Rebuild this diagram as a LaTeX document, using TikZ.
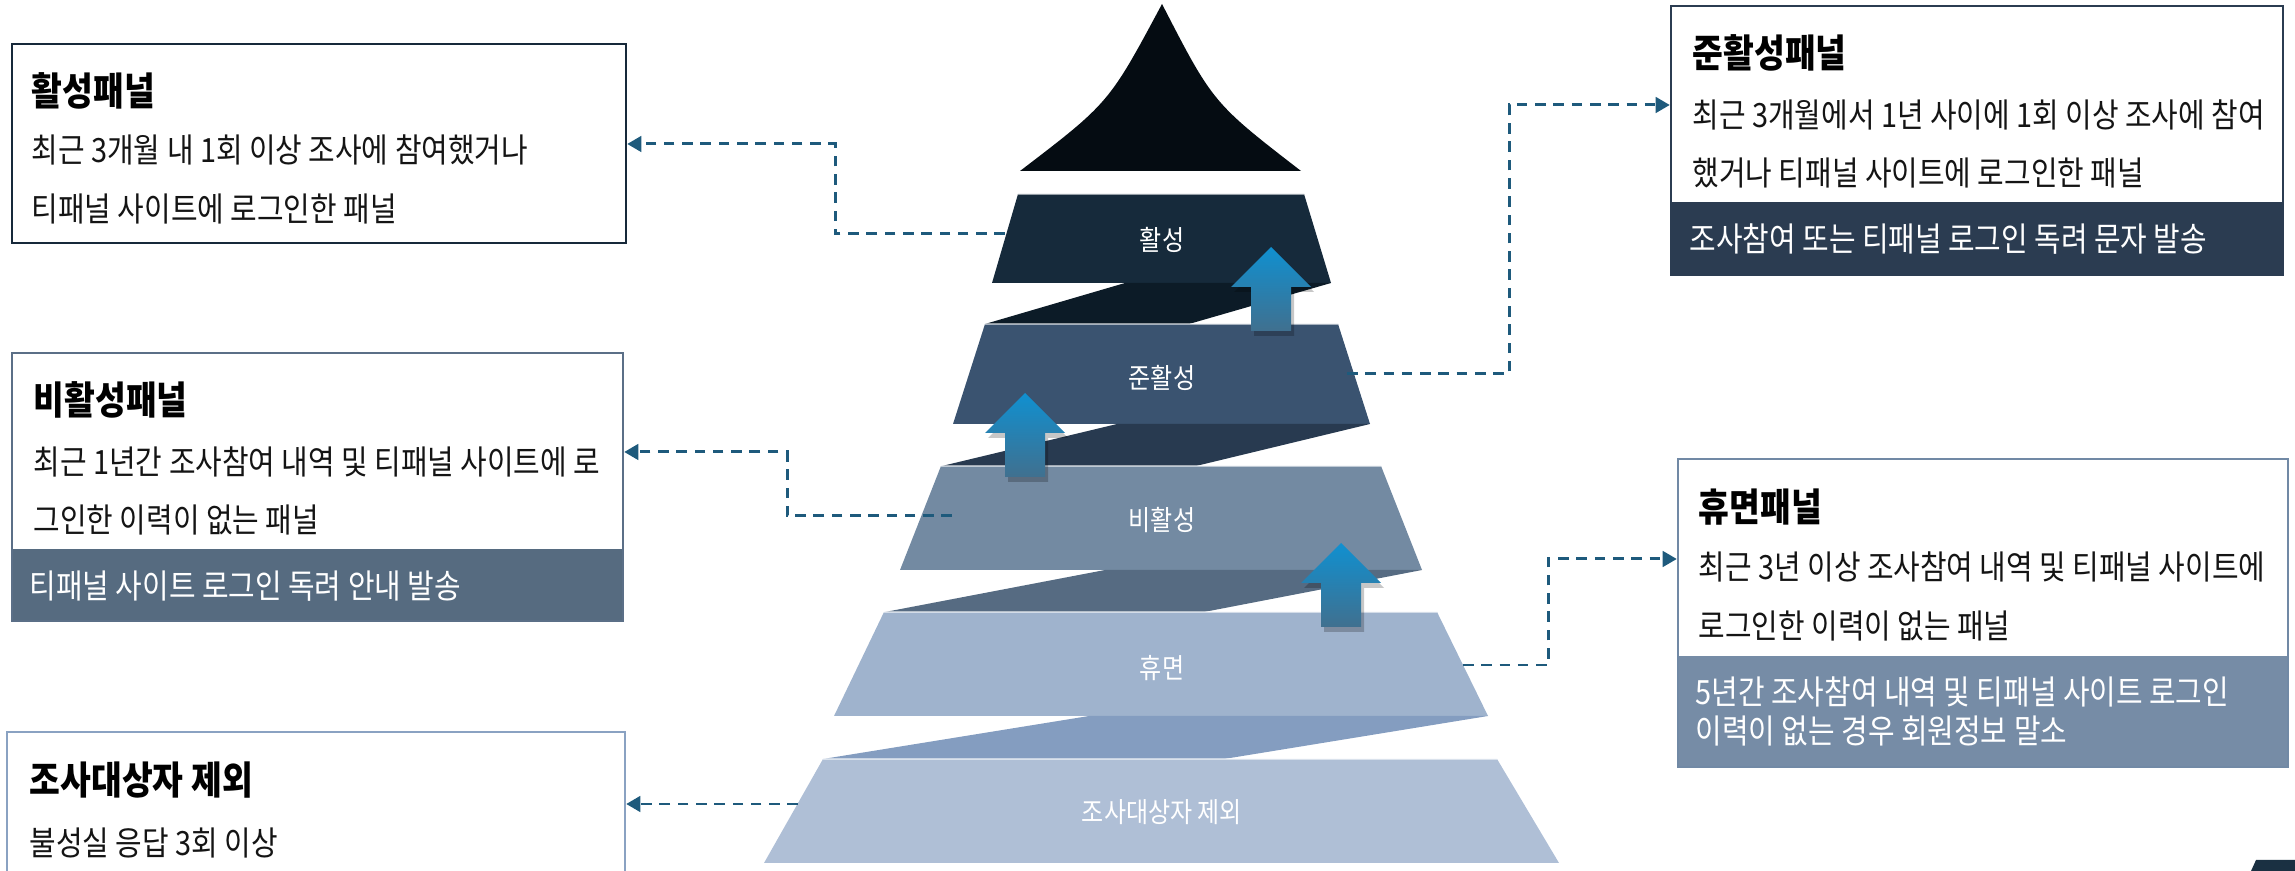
\documentclass[tikz,border=0pt]{standalone}
\usepackage{fontspec}
\usetikzlibrary{arrows.meta,fit}
\newfontfamily\kr[FakeStretch=0.865]{Noto Sans CJK KR}
\definecolor{connC}{HTML}{1E5A7C}
\definecolor{apexC}{HTML}{050C12}
\definecolor{tA}{HTML}{162A3B}
\definecolor{bA}{HTML}{0C1B27}
\definecolor{tB}{HTML}{3A5370}
\definecolor{bB}{HTML}{283A50}
\definecolor{tC}{HTML}{738AA2}
\definecolor{bC}{HTML}{566B82}
\definecolor{tD}{HTML}{9FB3CD}
\definecolor{bD}{HTML}{849DC0}
\definecolor{tE}{HTML}{AFBFD6}
\definecolor{boxAC}{HTML}{17293A}
\definecolor{boxBC}{HTML}{5B6F87}
\definecolor{bandBC}{HTML}{566B80}
\definecolor{boxCC}{HTML}{8AA2C2}
\definecolor{boxDC}{HTML}{2B3C51}
\definecolor{boxEC}{HTML}{7189A5}
\definecolor{bandEC}{HTML}{768CA6}
\definecolor{arrTop}{HTML}{1090D0}
\definecolor{arrMid}{HTML}{17648E}
\definecolor{arrBot}{HTML}{40708F}
\definecolor{cornerC}{HTML}{1A3042}
\tikzset{
  boxtitle/.style={anchor=west, inner sep=0pt, text=black, font=\kr\bfseries\fontsize{11}{13}\selectfont},
  boxtext/.style={anchor=west, inner sep=0pt, text=black!92, font=\kr\fontsize{9.5}{11}\selectfont},
  bandtext/.style={anchor=west, inner sep=0pt, text=white, font=\kr\fontsize{9.5}{11}\selectfont},
  tierlabel/.style={inner sep=0pt, text=white, font=\kr\fontsize{7.9}{9}\selectfont},
  panel/.style={inner sep=0pt, draw=#1, line width=0.7pt},
  conn/.style={draw=connC, line width=0.85pt, dash pattern=on 3pt off 2.2pt, -{Triangle[length=4pt,width=4.4pt]}},
  topedge/.style={draw=white, opacity=0.55, line width=0.4pt},
}
\newcommand{\uparrowat}[2]{%
  \fill[black, opacity=0.22] (#1+3,#2+5) -- ++(40,40) -- ++(-20,0) -- ++(0,44) -- ++(-40,0) -- ++(0,-44) -- ++(-20,0) -- cycle;
  \shade[top color=arrTop, middle color=arrMid, bottom color=arrBot] (#1,#2) -- ++(40,40) -- ++(-20,0) -- ++(0,44) -- ++(-40,0) -- ++(0,-44) -- ++(-20,0) -- cycle;
}
\begin{document}
\begin{tikzpicture}[x=0.01cm, y=-0.01cm]
\useasboundingbox (0,0) rectangle (2295,871);

% ---------- pyramid ----------
\fill[apexC] (1020,171) .. controls (1109,103) .. (1162,4) .. controls (1213,103) .. (1301,171) -- cycle;
\fill[tA] (1018,194) -- (1304,194) -- (1331,283) -- (992,283) -- cycle;
\fill[bA] (1125,283) -- (1331,283) -- (1189,324) -- (985,324) -- cycle;
\fill[tB] (985,324) -- (1338,324) -- (1370,424) -- (953,424) -- cycle;
\fill[bB] (1117,424) -- (1370,424) -- (1196,466) -- (942,466) -- cycle;
\fill[tC] (941,466) -- (1381,466) -- (1422,570) -- (900,570) -- cycle;
\fill[bC] (1105,570) -- (1422,570) -- (1204,612) -- (885,612) -- cycle;
\fill[tD] (884,612) -- (1437,612) -- (1488,716) -- (834,716) -- cycle;
\fill[bD] (1089,716) -- (1488,716) -- (1224,759) -- (823,759) -- cycle;
\fill[tE] (823,759) -- (1497,759) -- (1559,863) -- (764,863) -- cycle;
\draw[topedge] (1018,194) -- (1304,194);
\draw[topedge] (985,324) -- (1338,324);
\draw[topedge] (941,466) -- (1381,466);
\draw[topedge] (884,612) -- (1437,612);
\draw[topedge] (823,759) -- (1497,759);

\node[tierlabel] (t1) at (1162,240) {활성};
\node[tierlabel] (t2) at (1162,378) {준활성};
\node[tierlabel] (t3) at (1162,520) {비활성};
\node[tierlabel] (t4) at (1162,668) {휴면};
\node[tierlabel] (t5) at (1162,812) {조사대상자 제외};

% up arrows
\uparrowat{1271}{247}
\uparrowat{1025}{393}
\uparrowat{1341}{543}

% corner shape
\fill[cornerC] (2256,860) -- (2295,860) -- (2295,871) -- (2251,871) -- cycle;

% ---------- panels ----------
% 활성패널
\fill[white] (12,44) rectangle (626,243);
\node[panel=boxAC, fit={(12,44) (626,243)}] (b1) {};
\node[boxtitle] (b1t) at (31,91) {활성패널};
\node[boxtext] (b1a) at (31,150) {최근 3개월 내 1회 이상 조사에 참여했거나};
\node[boxtext] (b1b) at (31,209) {티패널 사이트에 로그인한 패널};

% 비활성패널
\fill[white] (12,353) rectangle (623,549);
\fill[bandBC] (12,549) rectangle (623,621);
\node[panel=boxBC, fit={(12,353) (623,621)}] (b2) {};
\node[boxtitle] (b2t) at (33,400) {비활성패널};
\node[boxtext] (b2a) at (33,462) {최근 1년간 조사참여 내역 및 티패널 사이트에 로};
\node[boxtext] (b2b) at (33,520) {그인한 이력이 없는 패널};
\node[bandtext] (b2c) at (29,586) {티패널 사이트 로그인 독려 안내 발송};

% 조사대상자 제외
\node[panel=boxCC, fit={(7,732) (625,900)}] (b3) {};
\node[boxtitle] (b3t) at (29,780) {조사대상자 제외};
\node[boxtext] (b3a) at (29,843) {불성실 응답 3회 이상};

% 준활성패널
\fill[boxDC] (1671,202) rectangle (2283,275);
\node[panel=boxDC, fit={(1671,6) (2283,275)}] (b4) {};
\node[boxtitle] (b4t) at (1692,53) {준활성패널};
\node[boxtext] (b4a) at (1692,115) {최근 3개월에서 1년 사이에 1회 이상 조사에 참여};
\node[boxtext] (b4b) at (1692,173) {했거나 티패널 사이트에 로그인한 패널};
\node[bandtext] (b4c) at (1689,239) {조사참여 또는 티패널 로그인 독려 문자 발송};

% 휴면패널
\fill[bandEC] (1678,656) rectangle (2288,767);
\node[panel=boxEC, fit={(1678,459) (2288,767)}] (b5) {};
\node[boxtitle] (b5t) at (1698,507) {휴면패널};
\node[boxtext] (b5a) at (1698,567) {최근 3년 이상 조사참여 내역 및 티패널 사이트에};
\node[boxtext] (b5b) at (1698,626) {로그인한 이력이 없는 패널};
\node[bandtext] (b5c) at (1695,692) {5년간 조사참여 내역 및 티패널 사이트 로그인};
\node[bandtext] (b5d) at (1695,731) {이력이 없는 경우 회원정보 말소};

% ---------- connectors ----------
\coordinate (s1) at (1005,234);
\coordinate (k1) at (835,144);
\draw[conn] (s1) -| (k1) -- (k1 -| b1.east);

\coordinate (s2) at (1347,374);
\coordinate (k2) at (1509,105);
\draw[conn] (s2) -| (k2) -- (k2 -| b4.west);

\coordinate (s3) at (952,516);
\coordinate (k3) at (787,452);
\draw[conn] (s3) -| (k3) -- (k3 -| b2.east);

\coordinate (s4) at (1463,665);
\coordinate (k4) at (1548,559);
\draw[conn] (s4) -| (k4) -- (k4 -| b5.west);

\coordinate (s5) at (798,804);
\draw[conn] (s5) -- (s5 -| b3.east);
\end{tikzpicture}
\end{document}
